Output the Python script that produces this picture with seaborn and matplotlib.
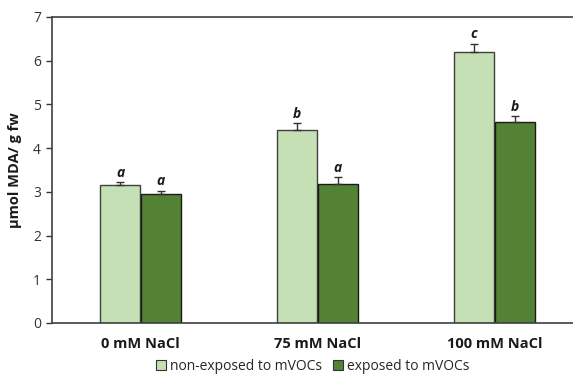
import numpy as np
import pandas as pd
import matplotlib
matplotlib.use("Agg")
import matplotlib.pyplot as plt
import seaborn as sns

# values
categories = ["0 mM NaCl", "75 mM NaCl", "100 mM NaCl"]
groups = ["non-exposed to mVOCs", "exposed to mVOCs"]
non_exposed = [3.15, 4.41, 6.19]
exposed = [2.95, 3.19, 4.59]
non_exposed_err = [0.08, 0.16, 0.20]
exposed_err = [0.08, 0.14, 0.14]
non_exposed_letters = ["a", "b", "c"]
exposed_letters = ["a", "a", "b"]

df = pd.DataFrame({
    "cond": categories * 2,
    "group": [groups[0]] * 3 + [groups[1]] * 3,
    "val": non_exposed + exposed,
})
errs = non_exposed_err + exposed_err
letters = non_exposed_letters + exposed_letters

sns.set_style("white")
plt.rcParams["font.family"] = ["Open Sans", "DejaVu Sans"]

fig = plt.figure(figsize=(5.73, 3.75), dpi=100)
ax = fig.add_axes([0.0908, 0.1387, 0.9267, 0.816])

sns.barplot(data=df, x="cond", y="val", hue="group", order=categories,
            hue_order=groups, palette=["#C5E0B4", "#548235"], saturation=1,
            width=0.46, gap=0.02, errorbar=None, ax=ax, legend=True)

edge = ["#404040"] * 3 + ["#1a1a1a"] * 3
for i, p in enumerate(ax.patches[:6]):
    p.set_edgecolor(edge[i])
    p.set_linewidth(1.0)
    xc = p.get_x() + p.get_width() / 2
    h = p.get_height()
    ax.errorbar(xc, h, yerr=[[0], [errs[i]]], fmt="none", ecolor="#333333",
                elinewidth=1.0, capsize=3, capthick=1.0)
    ax.text(xc, h + errs[i] + 0.05, letters[i], ha="center", va="bottom",
            fontsize=10, fontweight="bold", fontstyle="italic", color="#1a1a1a")

ax.set_xlim(-0.5, 2.5)
ax.set_ylim(0, 7)
ax.set_yticks(range(0, 8))
ax.set_xlabel("")
ax.set_ylabel("µmol MDA/ g fw", fontsize=10.5, fontweight="bold", color="#1a1a1a", labelpad=8)
ax.tick_params(axis="y", direction="out", length=4, width=1, color="#333333",
               labelsize=10, labelcolor="#333333", pad=4, left=True)
ax.tick_params(axis="x", length=0, labelsize=10.5, pad=10, labelcolor="#1a1a1a")
for lab in ax.get_xticklabels():
    lab.set_fontweight("bold")

ax.spines["right"].set_visible(False)
for s in ["left", "top", "bottom"]:
    ax.spines[s].set_color("#404040")
    ax.spines[s].set_linewidth(1.2)

leg = ax.legend(loc="center", bbox_to_anchor=(0.5 - 0.5 * (583 - 573) / 531, -0.142),
                ncol=2, frameon=False, fontsize=10, handlelength=0.7, handleheight=0.7,
                handletextpad=0.3, columnspacing=0.8, borderaxespad=0)
for h in leg.legend_handles:
    h.set_edgecolor("#333333")
    h.set_linewidth(0.8)

fig.savefig("out.png", dpi=100)
